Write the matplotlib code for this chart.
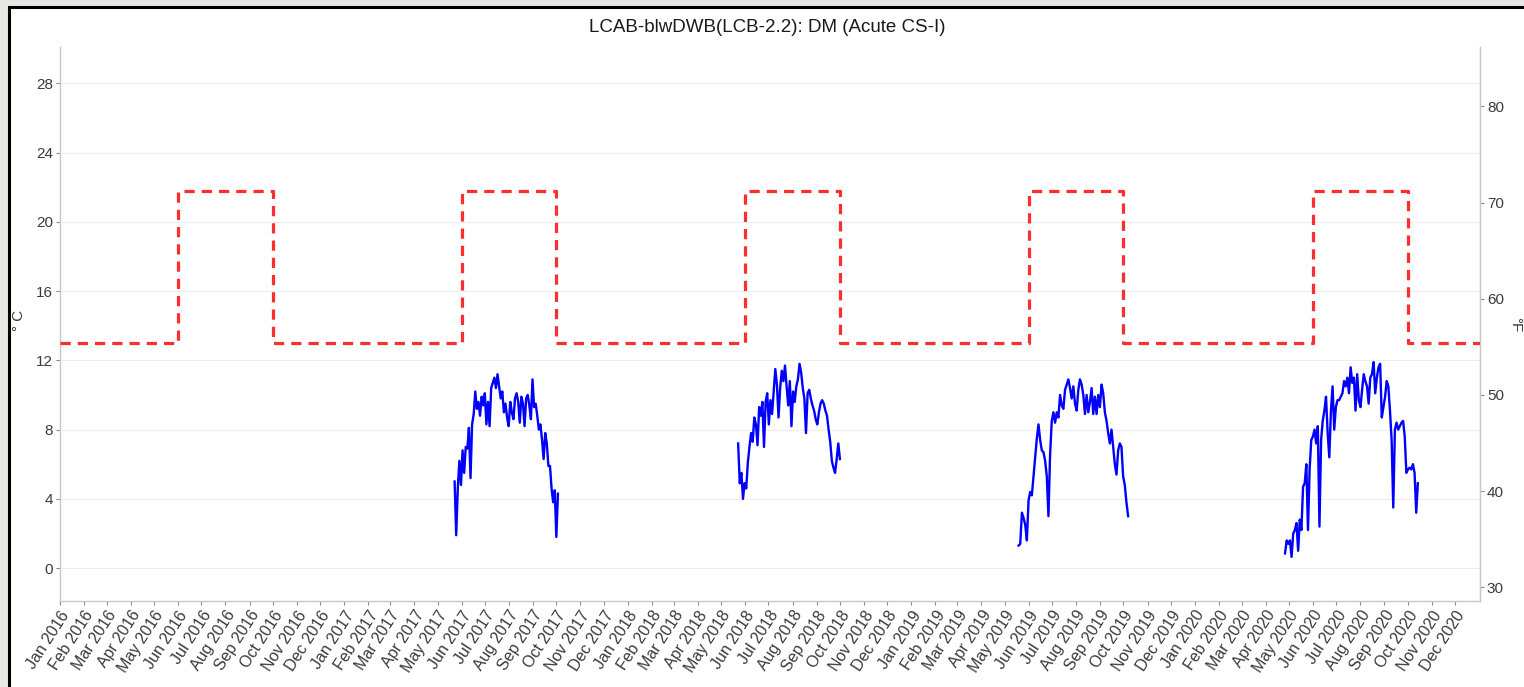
import matplotlib
matplotlib.use("Agg")
import matplotlib.pyplot as plt
import matplotlib.dates as mdates
from matplotlib.patches import Rectangle
import pandas as pd

plt.rcParams['font.family'] = ['Liberation Sans', 'DejaVu Sans']

title = "LCAB-blwDWB(LCB-2.2): DM (Acute CS-I)"

# criterion (dashed red step line)
thresh_dates = ["2016-01-01", "2016-06-01", "2016-10-01", "2017-06-01", "2017-10-01",
                "2018-06-01", "2018-10-01", "2019-06-01", "2019-10-01", "2020-06-01",
                "2020-10-01", "2021-01-02"]
thresh_vals = [13.0, 21.8, 13.0, 21.8, 13.0, 21.8, 13.0, 21.8, 13.0, 21.8, 13.0, 13.0]

# observed water temperature, one value about every two days per season
t2017_start, t2017_end = "2017-05-23", "2017-10-03"
t2017 = [5.0, 1.9, 4.6, 6.2, 4.8, 6.8, 5.5, 7.0, 6.9, 8.1, 5.2, 8.3, 8.9, 10.2, 9.2, 9.6,
         8.8, 9.9, 9.4, 10.1, 8.3, 9.6, 8.2, 10.4, 10.7, 11.0, 10.4, 11.2, 10.5, 9.8, 10.2,
         9.0, 9.5, 8.7, 8.2, 9.6, 9.0, 8.6, 9.8, 10.1, 9.6, 8.4, 9.9, 9.5, 8.2, 9.8, 10.0,
         9.4, 8.6, 10.9, 9.3, 9.5, 8.8, 8.0, 8.3, 7.4, 6.3, 7.8, 7.2, 5.9, 5.9, 4.6, 3.8,
         4.5, 1.8, 4.3]

t2018_start, t2018_end = "2018-05-23", "2018-10-01"
t2018 = [7.2, 4.9, 5.5, 4.0, 4.9, 4.6, 6.1, 7.0, 7.8, 7.3, 8.7, 8.3, 7.1, 9.3, 8.8, 9.6,
         7.0, 9.6, 10.1, 8.3, 9.7, 8.9, 10.2, 11.5, 10.6, 8.7, 10.4, 11.4, 10.8, 11.7, 10.5,
         9.4, 10.8, 8.2, 10.2, 9.6, 10.5, 10.9, 11.8, 11.3, 10.4, 9.8, 7.8, 10.1, 10.3, 9.8,
         9.4, 9.1, 8.6, 8.3, 9.0, 9.5, 9.7, 9.5, 9.1, 8.8, 8.0, 7.3, 6.2, 5.8, 5.5, 6.3,
         7.2, 6.3]

t2019_start, t2019_end = "2019-05-19", "2019-10-07"
t2019 = [1.3, 1.4, 3.2, 2.9, 2.5, 1.6, 3.9, 4.4, 4.2, 5.3, 6.4, 7.5, 8.3, 7.4, 6.8, 6.7,
         6.2, 5.3, 3.0, 6.6, 8.5, 9.0, 8.4, 9.0, 8.7, 10.0, 9.4, 9.2, 10.3, 10.6, 10.9,
         10.4, 9.8, 10.5, 9.5, 9.1, 10.3, 10.9, 10.6, 10.0, 8.9, 10.0, 9.0, 9.6, 10.4, 8.9,
         9.9, 8.9, 10.0, 9.3, 10.6, 10.1, 9.0, 8.5, 7.8, 7.2, 8.0, 7.0, 6.0, 5.4, 6.8, 7.2,
         7.0, 5.3, 4.8, 3.8, 3.0]

t2020_start, t2020_end = "2020-04-26", "2020-10-14"
t2020 = [0.85, 1.6, 1.4, 1.6, 0.65, 2.0, 2.2, 2.6, 1.0, 2.8, 2.2, 4.7, 4.9, 6.0, 2.2, 5.7,
         7.4, 7.6, 8.0, 7.2, 8.2, 2.4, 7.4, 8.5, 9.1, 9.9, 7.8, 6.4, 9.1, 10.5, 8.0, 9.3,
         9.7, 9.7, 9.9, 10.1, 10.8, 10.5, 11.0, 10.1, 11.6, 10.7, 11.0, 9.1, 11.2, 9.7, 9.3,
         10.3, 11.2, 10.8, 10.5, 9.5, 11.0, 11.2, 11.9, 10.1, 11.0, 11.6, 11.8, 8.7, 9.3,
         9.9, 10.8, 10.5, 9.1, 7.4, 3.5, 8.0, 8.4, 8.0, 8.2, 8.4, 8.5, 7.6, 5.5, 5.7, 5.8,
         5.7, 6.0, 5.5, 3.2, 4.9]

seasons = [(t2017_start, t2017_end, t2017), (t2018_start, t2018_end, t2018),
           (t2019_start, t2019_end, t2019), (t2020_start, t2020_end, t2020)]

month_ticks = pd.date_range("2016-01-01", "2020-12-01", freq="MS")
c_ticks = [0, 4, 8, 12, 16, 20, 24, 28]
f_ticks = [30, 40, 50, 60, 70, 80]

W, H = 1524, 687
fig = plt.figure(figsize=(W / 100, H / 100), dpi=100, facecolor='#e8e9e5')
# white panel with black frame (cut off at right and bottom)
frame = Rectangle((9 / W, -0.05), 1.1, 1 - 7 / H + 0.05, transform=fig.transFigure,
                  facecolor='white', edgecolor='black', linewidth=2.2, zorder=-10)
fig.patches.append(frame)

ax = fig.add_axes([60 / W, 1 - 601 / H, 1420 / W, 554 / H])
ax.set_facecolor('white')

for start, end, vals in seasons:
    d = pd.date_range(start, end, periods=len(vals))
    ax.plot(d, vals, color='#0000ff', lw=1.7, zorder=3)

ax.step(pd.to_datetime(thresh_dates), thresh_vals, where='post', color='#ff2e2e',
        lw=2.3, dashes=(3.2, 2.2), zorder=4)

ax.set_xlim(pd.Timestamp("2016-01-01"), pd.Timestamp("2021-01-02"))
ax.set_ylim(-1.9, 30.1)
ax.set_yticks(c_ticks)
ax.grid(axis='y', color='#ededed', lw=0.8)
ax.grid(axis='x', visible=False)
ax.set_axisbelow(True)

ax.set_xticks(month_ticks)
ax.xaxis.set_major_formatter(mdates.DateFormatter('%b %Y'))
for lab in ax.get_xticklabels():
    lab.set_rotation(57)
    lab.set_ha('right')
    lab.set_rotation_mode('anchor')

ax.spines['top'].set_visible(False)
for side in ['left', 'bottom', 'right']:
    ax.spines[side].set_color('#c8c8c8')
    ax.spines[side].set_linewidth(1.0)

ax.tick_params(axis='both', colors='#8a8a8a', length=3, width=0.8, labelcolor='#3a3a3a')
ax.tick_params(axis='x', labelsize=11.5, pad=2)
ax.tick_params(axis='y', labelsize=11, pad=2)

sec = ax.secondary_yaxis('right', functions=(lambda c: c * 9 / 5 + 32, lambda f: (f - 32) * 5 / 9))
sec.set_yticks(f_ticks)
sec.tick_params(colors='#8a8a8a', length=3, width=0.8, labelcolor='#3a3a3a', labelsize=11, pad=2)
sec.spines['right'].set_color('#c8c8c8')

fig.text(19 / W, 1 - 320 / H, '° C', rotation=90, ha='center', va='center', fontsize=11, color='#3a3a3a')
fig.text(1515 / W, 1 - 325 / H, '°F', rotation=270, ha='center', va='center', fontsize=11, color='#3a3a3a')
fig.text(767 / W, 1 - 28 / H, title, ha='center', va='center', fontsize=13.5, color='#1a1a1a')

fig.savefig('out.png', dpi=100, facecolor=fig.get_facecolor())
